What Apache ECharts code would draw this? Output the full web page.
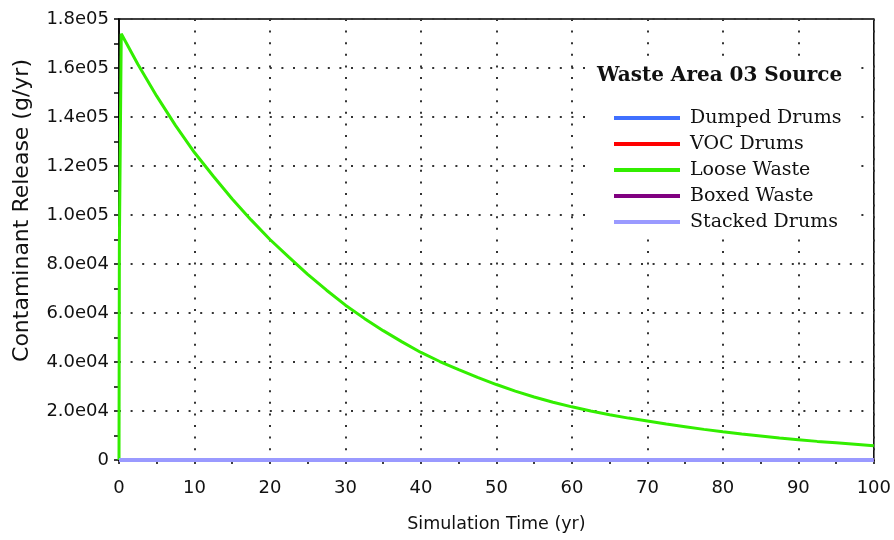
<!DOCTYPE html>
<html>
<head>
<meta charset="utf-8">
<script src="https://cdn.jsdelivr.net/npm/echarts@6/dist/echarts.min.js"></script>
<style>html,body{margin:0;padding:0;background:#fff;}#chart{width:894px;height:540px;}</style>
</head>
<body>
<div id="chart"></div>
<script>
// ---- data ----
const legendTitle = 'Waste Area 03 Source';
const seriesNames = ['Dumped Drums', 'VOC Drums', 'Loose Waste', 'Boxed Waste', 'Stacked Drums'];
const seriesColors = ['#4070ff', '#ff0000', '#33ee00', '#800080', '#9a9aff'];

const looseTime = [0, 0.05, 0.3, 2.5, 5, 7.5, 10, 12.5, 15, 17.5, 20, 22.5, 25, 27.5, 30, 32.5, 35, 37.5, 40, 42.5, 45, 47.5, 50, 52.5, 55, 57.5, 60, 62.5, 65, 67.5, 70, 72.5, 75, 77.5, 80, 82.5, 85, 87.5, 90, 92.5, 95, 97.5, 100];
const looseWaste = [0, 88000, 174000, 161500, 148500, 136500, 125500, 115800, 106500, 98000, 90000, 82800, 75800, 69300, 63200, 57800, 52800, 48200, 43900, 40200, 36900, 33700, 30800, 28100, 25700, 23600, 21700, 20000, 18500, 17100, 15900, 14700, 13600, 12500, 11500, 10600, 9800, 9000, 8300, 7600, 7000, 6400, 5800];

const flatTime = [0, 100];
const dumpedDrums = [0, 0];
const vocDrums = [0, 0];
const boxedWaste = [0, 0];
const stackedDrums = [0, 0];

const yTickLabels = ['0', '2.0e04', '4.0e04', '6.0e04', '8.0e04', '1.0e05', '1.2e05', '1.4e05', '1.6e05', '1.8e05'];
const xAxisName = 'Simulation Time (yr)';
const yAxisName = 'Contaminant Release (g/yr)';

function pairs(xs, ys) { return xs.map((x, i) => [x, ys[i]]); }
const seriesData = [
  pairs(flatTime, dumpedDrums),
  pairs(flatTime, vocDrums),
  pairs(looseTime, looseWaste),
  pairs(flatTime, boxedWaste),
  pairs(flatTime, stackedDrums)
];
const lineWidths = [3, 3, 3, 3, 4];

const chart = echarts.init(document.getElementById('chart'), null, { renderer: 'canvas' });
const gridDots = { color: '#333', width: 2, type: [2, 9.6] };

chart.setOption({
  animation: false,
  backgroundColor: '#fff',
  grid: { left: 119, right: 20, top: 19, bottom: 80, show: true, borderColor: '#000', borderWidth: 1.5, backgroundColor: 'transparent' },
  xAxis: {
    type: 'value', min: 0, max: 100, interval: 10,
    name: xAxisName, nameLocation: 'middle', nameGap: 55,
    nameTextStyle: { fontFamily: 'DejaVu Sans', fontSize: 17.5, color: '#111' },
    axisLine: { show: true, lineStyle: { color: '#000', width: 1.5 } },
    axisTick: { show: true, length: 4, lineStyle: { color: '#000', width: 1.5 } },
    minorTick: { show: true, splitNumber: 2, length: 4, lineStyle: { color: '#000', width: 1.5 } },
    axisLabel: { fontFamily: 'DejaVu Sans', fontSize: 18, color: '#111', margin: 19 },
    splitLine: { show: true, lineStyle: gridDots }
  },
  yAxis: {
    type: 'value', min: 0, max: 180000, interval: 20000,
    name: yAxisName, nameLocation: 'middle', nameGap: 86, nameRotate: 90,
    nameTextStyle: { fontFamily: 'DejaVu Sans', fontSize: 22, color: '#111', padding: [0, 0, 0, 58] },
    axisLine: { show: true, lineStyle: { color: '#000', width: 1.5 } },
    axisTick: { show: true, length: 5, lineStyle: { color: '#000', width: 1.5 } },
    minorTick: { show: true, splitNumber: 2, length: 5, lineStyle: { color: '#000', width: 1.5 } },
    axisLabel: {
      fontFamily: 'DejaVu Sans', fontSize: 18, color: '#111', margin: 10,
      formatter: v => yTickLabels[Math.round(v / 20000)]
    },
    splitLine: { show: true, lineStyle: gridDots }
  },
  legend: {
    data: seriesNames,
    orient: 'vertical', left: 614, top: 105,
    icon: 'rect', itemWidth: 66, itemHeight: 4, itemGap: 0,
    textStyle: { fontFamily: 'DejaVu Serif', fontSize: 19, color: '#111', lineHeight: 26, padding: [0, 0, 0, 5] },
    padding: 0,
    selectedMode: false
  },
  graphic: [
    { type: 'rect', z: 3, shape: { x: 587, y: 57, width: 267, height: 180 }, style: { fill: '#fff' }, silent: true },
    { type: 'text', z: 5, x: 597, y: 76, style: { text: legendTitle, font: 'bold 20px "DejaVu Serif"', fill: '#111', verticalAlign: 'middle' }, silent: true }
  ],
  series: seriesNames.map((name, i) => ({
    name: name, type: 'line', data: seriesData[i], showSymbol: false, symbol: 'none',
    color: seriesColors[i],
    lineStyle: { color: seriesColors[i], width: lineWidths[i] },
    z: 2 + i * 0.01
  }))
});
</script>
</body>
</html>
